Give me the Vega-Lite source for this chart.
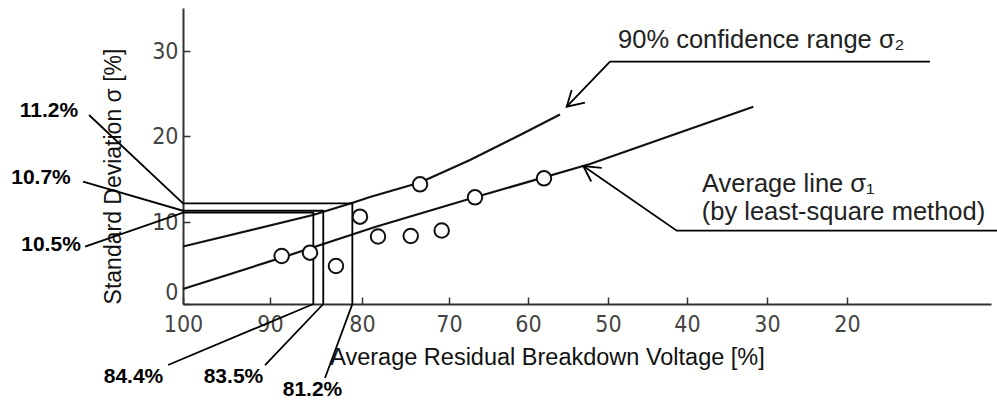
{
  "$schema": "https://vega.github.io/schema/vega-lite/v6.json",
  "width": 808,
  "height": 296,
  "autosize": {"type": "none"},
  "padding": {"left": 183, "top": 8, "right": 6, "bottom": 96},
  "background": "white",
  "view": {"stroke": null},
  "encoding": {
    "x": {
      "field": "x", "type": "quantitative",
      "scale": {"domain": [100, 90, 80, 70, 60, 50, 40, 30, 20, 2], "range": [0, 87, 179, 266, 345, 425, 504, 584, 664, 808], "nice": false, "zero": false},
      "axis": {
        "values": [100, 90, 80, 70, 60, 50, 40, 30, 20],
        "grid": false, "domainColor": "#333", "domainWidth": 2,
        "tickColor": "#333", "tickWidth": 1.5, "tickSize": -7, "labelPadding": 16,
        "labelFont": "DejaVu Sans Condensed", "labelFontSize": 23, "labelColor": "#444",
        "labelFlush": false, "labelOverlap": false,
        "title": "Average Residual Breakdown Voltage [%]",
        "titleFont": "Liberation Sans", "titleFontSize": 23.5, "titleFontWeight": "normal", "titleColor": "#111",
        "titleX": 364, "titleY": 60, "titleAlign": "center", "titleBaseline": "alphabetic"
      }
    },
    "y": {
      "field": "y", "type": "quantitative",
      "scale": {"domain": [0, 10, 20, 30, 35], "range": [296, 214, 128, 43, 0], "nice": false, "zero": false},
      "axis": {
        "values": [0, 10, 20, 30],
        "grid": false, "domainColor": "#333", "domainWidth": 2,
        "tickColor": "#333", "tickWidth": 1.5, "tickSize": -7, "labelPadding": 12,
        "labelFont": "DejaVu Sans Condensed", "labelFontSize": 23, "labelColor": "#444",
        "labelBaseline": {"condition": {"test": "datum.value == 0", "value": "bottom"}, "value": "middle"},
        "labelFlush": false, "labelOverlap": false,
        "title": "Standard Deviation σ [%]",
        "titleFont": "Liberation Sans", "titleFontSize": 23, "titleFontWeight": "normal", "titleColor": "#111",
        "titleX": -63, "titleY": 168, "titleAngle": 270, "titleAlign": "center", "titleBaseline": "alphabetic"
      }
    }
  },
  "layer": [
    {
      "data": {"values": [
        {"s": "avg", "o": 1, "x": 100, "y": 1.83},
        {"s": "avg", "o": 2, "x": 88.73, "y": 5.65},
        {"s": "avg", "o": 3, "x": 78.5, "y": 9.39},
        {"s": "avg", "o": 4, "x": 66.71, "y": 12.87},
        {"s": "avg", "o": 5, "x": 52.25, "y": 16.74},
        {"s": "avg", "o": 6, "x": 31.71, "y": 23.45},
        {"s": "conf", "o": 1, "x": 100, "y": 7.01},
        {"s": "conf", "o": 2, "x": 85.33, "y": 10.81},
        {"s": "conf", "o": 3, "x": 81.09, "y": 12.21},
        {"s": "conf", "o": 4, "x": 79.08, "y": 12.91},
        {"s": "conf", "o": 5, "x": 73.33, "y": 14.59},
        {"s": "conf", "o": 6, "x": 67.34, "y": 17.21},
        {"s": "conf", "o": 7, "x": 61.01, "y": 20.12},
        {"s": "conf", "o": 8, "x": 56.0, "y": 22.53}
      ]},
      "mark": {"type": "line", "color": "#111", "strokeWidth": 2.2},
      "encoding": {"detail": {"field": "s"}, "order": {"field": "o", "type": "quantitative"}}
    },
    {
      "data": {"values": [
        {"s": "a", "o": 1, "x": 110.8, "y": 22.47},
        {"s": "a", "o": 2, "x": 100, "y": 12.17},
        {"s": "a", "o": 3, "x": 81.05, "y": 12.17},
        {"s": "a", "o": 4, "x": 81.05, "y": 0},
        {"s": "a", "o": 5, "x": 84.02, "y": -9.02},
        {"s": "b", "o": 1, "x": 111.49, "y": 14.69},
        {"s": "b", "o": 2, "x": 100, "y": 11.31},
        {"s": "b", "o": 3, "x": 84.21, "y": 11.31},
        {"s": "b", "o": 4, "x": 84.21, "y": 0},
        {"s": "b", "o": 5, "x": 90.57, "y": -7.44},
        {"s": "c", "o": 1, "x": 111.26, "y": 6.99},
        {"s": "c", "o": 2, "x": 100, "y": 11.1},
        {"s": "c", "o": 3, "x": 85.29, "y": 11.1},
        {"s": "c", "o": 4, "x": 85.29, "y": 0},
        {"s": "c", "o": 5, "x": 101.72, "y": -7.44},
        {"s": "arr1", "o": 1, "x": 9.63, "y": 28.74},
        {"s": "arr1", "o": 2, "x": 49.75, "y": 28.74},
        {"s": "arr1", "o": 3, "x": 55.16, "y": 23.45},
        {"s": "head1", "o": 1, "x": 54.54, "y": 25.41},
        {"s": "head1", "o": 2, "x": 55.16, "y": 23.45},
        {"s": "head1", "o": 3, "x": 52.88, "y": 23.92},
        {"s": "arr2", "o": 1, "x": 1.25, "y": 8.94},
        {"s": "arr2", "o": 2, "x": 41.3, "y": 8.94},
        {"s": "arr2", "o": 3, "x": 53.09, "y": 16.51},
        {"s": "head2", "o": 1, "x": 50.79, "y": 16.3},
        {"s": "head2", "o": 2, "x": 53.09, "y": 16.51},
        {"s": "head2", "o": 3, "x": 52.1, "y": 14.71}
      ]},
      "mark": {"type": "line", "color": "#000", "strokeWidth": 1.8},
      "encoding": {"detail": {"field": "s"}, "order": {"field": "o", "type": "quantitative"}}
    },
    {
      "data": {"values": [
        {"x": 88.73, "y": 5.85},
        {"x": 85.65, "y": 6.26},
        {"x": 82.83, "y": 4.63},
        {"x": 80.22, "y": 10.62},
        {"x": 78.16, "y": 8.23},
        {"x": 74.4, "y": 8.29},
        {"x": 70.84, "y": 8.96},
        {"x": 73.33, "y": 14.38},
        {"x": 66.71, "y": 12.87},
        {"x": 58.0, "y": 15.08}
      ]},
      "mark": {"type": "point", "shape": "circle", "filled": false, "fill": "white", "fillOpacity": 1, "stroke": "#111", "strokeWidth": 2, "opacity": 1, "size": 210}
    },
    {
      "data": {"values": [
        {"t": "11.2%", "x": 115.4, "y": 22.94},
        {"t": "10.7%", "x": 116.32, "y": 15.17},
        {"t": "10.5%", "x": 115.17, "y": 7.2},
        {"t": "84.4%", "x": 105.69, "y": -8.9},
        {"t": "83.5%", "x": 94.2, "y": -8.9},
        {"t": "81.2%", "x": 85.38, "y": -10.49}
      ]},
      "mark": {"type": "text", "font": "Liberation Sans", "fontSize": 21, "fontWeight": "bold", "color": "#000", "align": "center", "baseline": "middle"},
      "encoding": {"text": {"field": "t"}}
    },
    {
      "data": {"values": [
        {"t": "90% confidence range σ₂", "x": 48.73, "y": 30.35},
        {"t": "Average line σ₁", "x": 38.13, "y": 13.49},
        {"t": "(by least-square method)", "x": 38.16, "y": 10.23}
      ]},
      "mark": {"type": "text", "font": "Liberation Sans", "fontSize": 25.5, "color": "#222", "align": "left", "baseline": "alphabetic"},
      "encoding": {"text": {"field": "t"}}
    }
  ]
}
